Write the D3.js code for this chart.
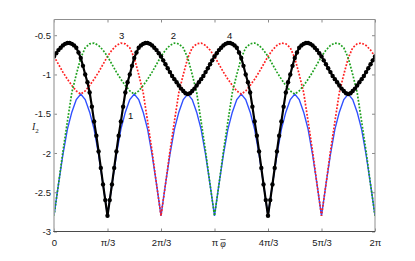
<!DOCTYPE html>
<html>
<head>
<meta charset="utf-8">
<script src="https://cdn.jsdelivr.net/npm/d3@7"></script>
<style>
  html, body { margin: 0; padding: 0; background: #fff; }
  svg { display: block; }
  text { font-family: "Liberation Sans", Arial, sans-serif; }
</style>
</head>
<body>
<svg id="chart" width="415" height="261"></svg>
<script>
// ---- data ----
const xTickVals = [0, Math.PI/3, 2*Math.PI/3, Math.PI, 4*Math.PI/3, 5*Math.PI/3, 2*Math.PI];
const xTickLabels = ["0", "π/3", "2π/3", "π", "4π/3", "5π/3", "2π"];
const yTickVals = [-0.5, -1, -1.5, -2, -2.5, -3];
const yTickLabels = ["-0.5", "-1", "-1.5", "-2", "-2.5", "-3"];

// series sampled every 5 degrees from 0 to 360 (73 values)
const curve1Blue = [
  -2.80,-2.40,-2.02,-1.70,-1.48,-1.32,-1.25,-1.32,-1.48,-1.70,-2.02,-2.40,
  -2.80,-2.40,-2.02,-1.70,-1.48,-1.32,-1.25,-1.32,-1.48,-1.70,-2.02,-2.40,
  -2.80,-2.40,-2.02,-1.70,-1.48,-1.32,-1.25,-1.32,-1.48,-1.70,-2.02,-2.40,
  -2.80,-2.40,-2.02,-1.70,-1.48,-1.32,-1.25,-1.32,-1.48,-1.70,-2.02,-2.40,
  -2.80,-2.40,-2.02,-1.70,-1.48,-1.32,-1.25,-1.32,-1.48,-1.70,-2.02,-2.40,
  -2.80,-2.40,-2.02,-1.70,-1.48,-1.32,-1.25,-1.32,-1.48,-1.70,-2.02,-2.40,
  -2.80
];
const curve3Red = [
  -0.77,-0.87,-0.97,-1.06,-1.14,-1.21,-1.25,
  -1.21,-1.14,-1.06,-0.97,-0.87,-0.77,-0.69,-0.63,-0.60,-0.61,-0.66,-0.79,-1.00,-1.23,-1.60,-1.98,-2.40,-2.80,
  -2.40,-1.98,-1.60,-1.23,-1.00,-0.79,-0.66,-0.61,-0.60,-0.63,-0.69,-0.77,-0.87,-0.97,-1.06,-1.14,-1.21,-1.25,
  -1.21,-1.14,-1.06,-0.97,-0.87,-0.77,-0.69,-0.63,-0.60,-0.61,-0.66,-0.79,-1.00,-1.23,-1.60,-1.98,-2.40,-2.80,
  -2.40,-1.98,-1.60,-1.23,-1.00,-0.79,-0.66,-0.61,-0.60,-0.63,-0.69,-0.77
];
const curve2Green = [
  -2.80,-2.40,-1.98,-1.60,-1.23,-1.00,-0.79,-0.66,-0.61,-0.60,-0.63,-0.69,-0.77,-0.87,-0.97,-1.06,-1.14,-1.21,-1.25,
  -1.21,-1.14,-1.06,-0.97,-0.87,-0.77,-0.69,-0.63,-0.60,-0.61,-0.66,-0.79,-1.00,-1.23,-1.60,-1.98,-2.40,-2.80,
  -2.40,-1.98,-1.60,-1.23,-1.00,-0.79,-0.66,-0.61,-0.60,-0.63,-0.69,-0.77,-0.87,-0.97,-1.06,-1.14,-1.21,-1.25,
  -1.21,-1.14,-1.06,-0.97,-0.87,-0.77,-0.69,-0.63,-0.60,-0.61,-0.66,-0.79,-1.00,-1.23,-1.60,-1.98,-2.40,-2.80
];
// series sampled every 2.5 degrees from 0 to 360 (145 values)
const curve4Black = [
  -0.77,-0.73,-0.69,-0.66,-0.63,-0.61,-0.60,-0.60,-0.61,-0.63,-0.66,-0.72,-0.79,-0.89,-1.00,-1.10,-1.23,-1.41,-1.60,-1.78,-1.98,-2.19,-2.40,-2.60,-2.80,
  -2.60,-2.40,-2.19,-1.98,-1.78,-1.60,-1.41,-1.23,-1.10,-1.00,-0.89,-0.79,-0.72,-0.66,-0.63,-0.61,-0.60,-0.60,-0.61,-0.63,-0.66,-0.69,-0.73,-0.77,-0.82,-0.87,-0.92,-0.97,-1.02,-1.06,-1.10,-1.14,-1.18,-1.21,-1.24,-1.25,
  -1.24,-1.21,-1.18,-1.14,-1.10,-1.06,-1.02,-0.97,-0.92,-0.87,-0.82,-0.77,
  -0.73,-0.69,-0.66,-0.63,-0.61,-0.60,-0.60,-0.61,-0.63,-0.66,-0.72,-0.79,-0.89,-1.00,-1.10,-1.23,-1.41,-1.60,-1.78,-1.98,-2.19,-2.40,-2.60,-2.80,
  -2.60,-2.40,-2.19,-1.98,-1.78,-1.60,-1.41,-1.23,-1.10,-1.00,-0.89,-0.79,-0.72,-0.66,-0.63,-0.61,-0.60,-0.60,-0.61,-0.63,-0.66,-0.69,-0.73,-0.77,-0.82,-0.87,-0.92,-0.97,-1.02,-1.06,-1.10,-1.14,-1.18,-1.21,-1.24,-1.25,
  -1.24,-1.21,-1.18,-1.14,-1.10,-1.06,-1.02,-0.97,-0.92,-0.87,-0.82,-0.77
];
// curve number labels: [text, phi (degrees), value]
const curveLabels = [
  ["1", 86, -1.53],
  ["2", 134, -0.50],
  ["3", 76, -0.50],
  ["4", 197, -0.50]
];

// ---- layout ----
const W = 415, H = 261;
const plot = { left: 54, right: 375, top: 19.5, bottom: 231.5 };
const svg = d3.select("#chart");

const x = d3.scaleLinear().domain([0, 2*Math.PI]).range([plot.left, plot.right]);
const y = d3.scaleLinear().domain([-3, -0.3]).range([plot.bottom, plot.top]);

const toSeries = arr => arr.map((v, i) => [i * 2*Math.PI / (arr.length - 1), v]);

const line = d3.line().x(d => x(d[0])).y(d => y(d[1])).curve(d3.curveLinear);

svg.append("clipPath").attr("id", "clip")
  .append("rect").attr("x", plot.left).attr("y", plot.top)
  .attr("width", plot.right - plot.left).attr("height", plot.bottom - plot.top);

// ---- axes ticks and labels ----
const fs = 9.5;
const gx = svg.append("g").attr("transform", `translate(0,${plot.bottom})`)
  .call(d3.axisBottom(x).tickValues(xTickVals).tickFormat((d, i) => xTickLabels[i])
    .tickSize(-3).tickPadding(7.8));
const gxt = svg.append("g").attr("transform", `translate(0,${plot.top})`)
  .call(d3.axisTop(x).tickValues(xTickVals).tickFormat("").tickSize(-3));
const gy = svg.append("g").attr("transform", `translate(${plot.left},0)`)
  .call(d3.axisLeft(y).tickValues(yTickVals).tickFormat((d, i) => yTickLabels[i])
    .tickSize(-3).tickPadding(3));
const gyr = svg.append("g").attr("transform", `translate(${plot.right},0)`)
  .call(d3.axisRight(y).tickValues(yTickVals).tickFormat("").tickSize(-3));

[gx, gxt, gy, gyr].forEach(g => {
  g.select(".domain").remove();
  g.selectAll(".tick line").attr("stroke", "#8a8a8a").attr("stroke-width", 1);
  g.selectAll(".tick text").attr("fill", "#1a1a1a")
    .style("font-family", '"Liberation Sans", Arial, sans-serif').style("font-size", fs + "px");
});

// ---- curves ----
const gc = svg.append("g").attr("clip-path", "url(#clip)");

gc.append("path").datum(toSeries(curve1Blue))
  .attr("d", line).attr("fill", "none").attr("stroke", "#3050ff").attr("stroke-width", 1.4);

gc.append("path").datum(toSeries(curve3Red))
  .attr("d", line).attr("fill", "none").attr("stroke", "#ff2020").attr("stroke-width", 1.7)
  .attr("stroke-dasharray", "1.8,1.6");

gc.append("path").datum(toSeries(curve2Green))
  .attr("d", line).attr("fill", "none").attr("stroke", "#1ea01e").attr("stroke-width", 1.7)
  .attr("stroke-dasharray", "1.8,1.6");

const blackData = toSeries(curve4Black);
gc.append("path").datum(blackData)
  .attr("d", line).attr("fill", "none").attr("stroke", "#000").attr("stroke-width", 2.2);
gc.selectAll("circle.m").data(blackData).enter().append("circle")
  .attr("class", "m")
  .attr("cx", d => x(d[0])).attr("cy", d => y(d[1])).attr("r", 2.2).attr("fill", "#000");

// ---- box ----
const box = svg.append("g");
box.append("line").attr("x1", plot.left).attr("x2", plot.right).attr("y1", plot.top).attr("y2", plot.top)
  .attr("stroke", "#8f8f8f").attr("stroke-width", 1);
box.append("line").attr("x1", plot.right).attr("x2", plot.right).attr("y1", plot.top).attr("y2", plot.bottom)
  .attr("stroke", "#8f8f8f").attr("stroke-width", 1);
box.append("line").attr("x1", plot.left).attr("x2", plot.left).attr("y1", plot.top).attr("y2", plot.bottom)
  .attr("stroke", "#b0b0b0").attr("stroke-width", 1.5);
box.append("line").attr("x1", plot.left - 0.75).attr("x2", plot.right).attr("y1", plot.bottom).attr("y2", plot.bottom)
  .attr("stroke", "#4a4a4a").attr("stroke-width", 1);

// ---- curve labels ----
svg.selectAll("text.cl").data(curveLabels).enter().append("text")
  .attr("class", "cl")
  .attr("x", d => x(d[1] * Math.PI / 180)).attr("y", d => y(d[2]))
  .attr("text-anchor", "middle").attr("dy", "0.35em")
  .style("font-size", fs + "px").attr("fill", "#111")
  .text(d => d[0]);

// ---- axis titles ----
const phiX = x(Math.PI) + 8.5;
svg.append("text").attr("x", phiX).attr("y", 246.5)
  .attr("text-anchor", "middle")
  .style("font-family", '"Liberation Serif", "Times New Roman", serif')
  .style("font-style", "italic").style("font-size", "10px").attr("fill", "#222")
  .text("φ");
svg.append("line").attr("x1", phiX - 2.6).attr("x2", phiX + 2.6)
  .attr("y1", 239.5).attr("y2", 239.5).attr("stroke", "#333").attr("stroke-width", 0.7);

const yl = svg.append("text").attr("x", 32).attr("y", 130)
  .style("font-family", '"Liberation Serif", "Times New Roman", serif')
  .style("font-style", "italic").style("font-size", "10px").attr("fill", "#222");
yl.append("tspan").text("I");
yl.append("tspan").attr("dy", 2.5).style("font-size", "7px").style("font-style", "normal").text("2");
</script>
</body>
</html>
